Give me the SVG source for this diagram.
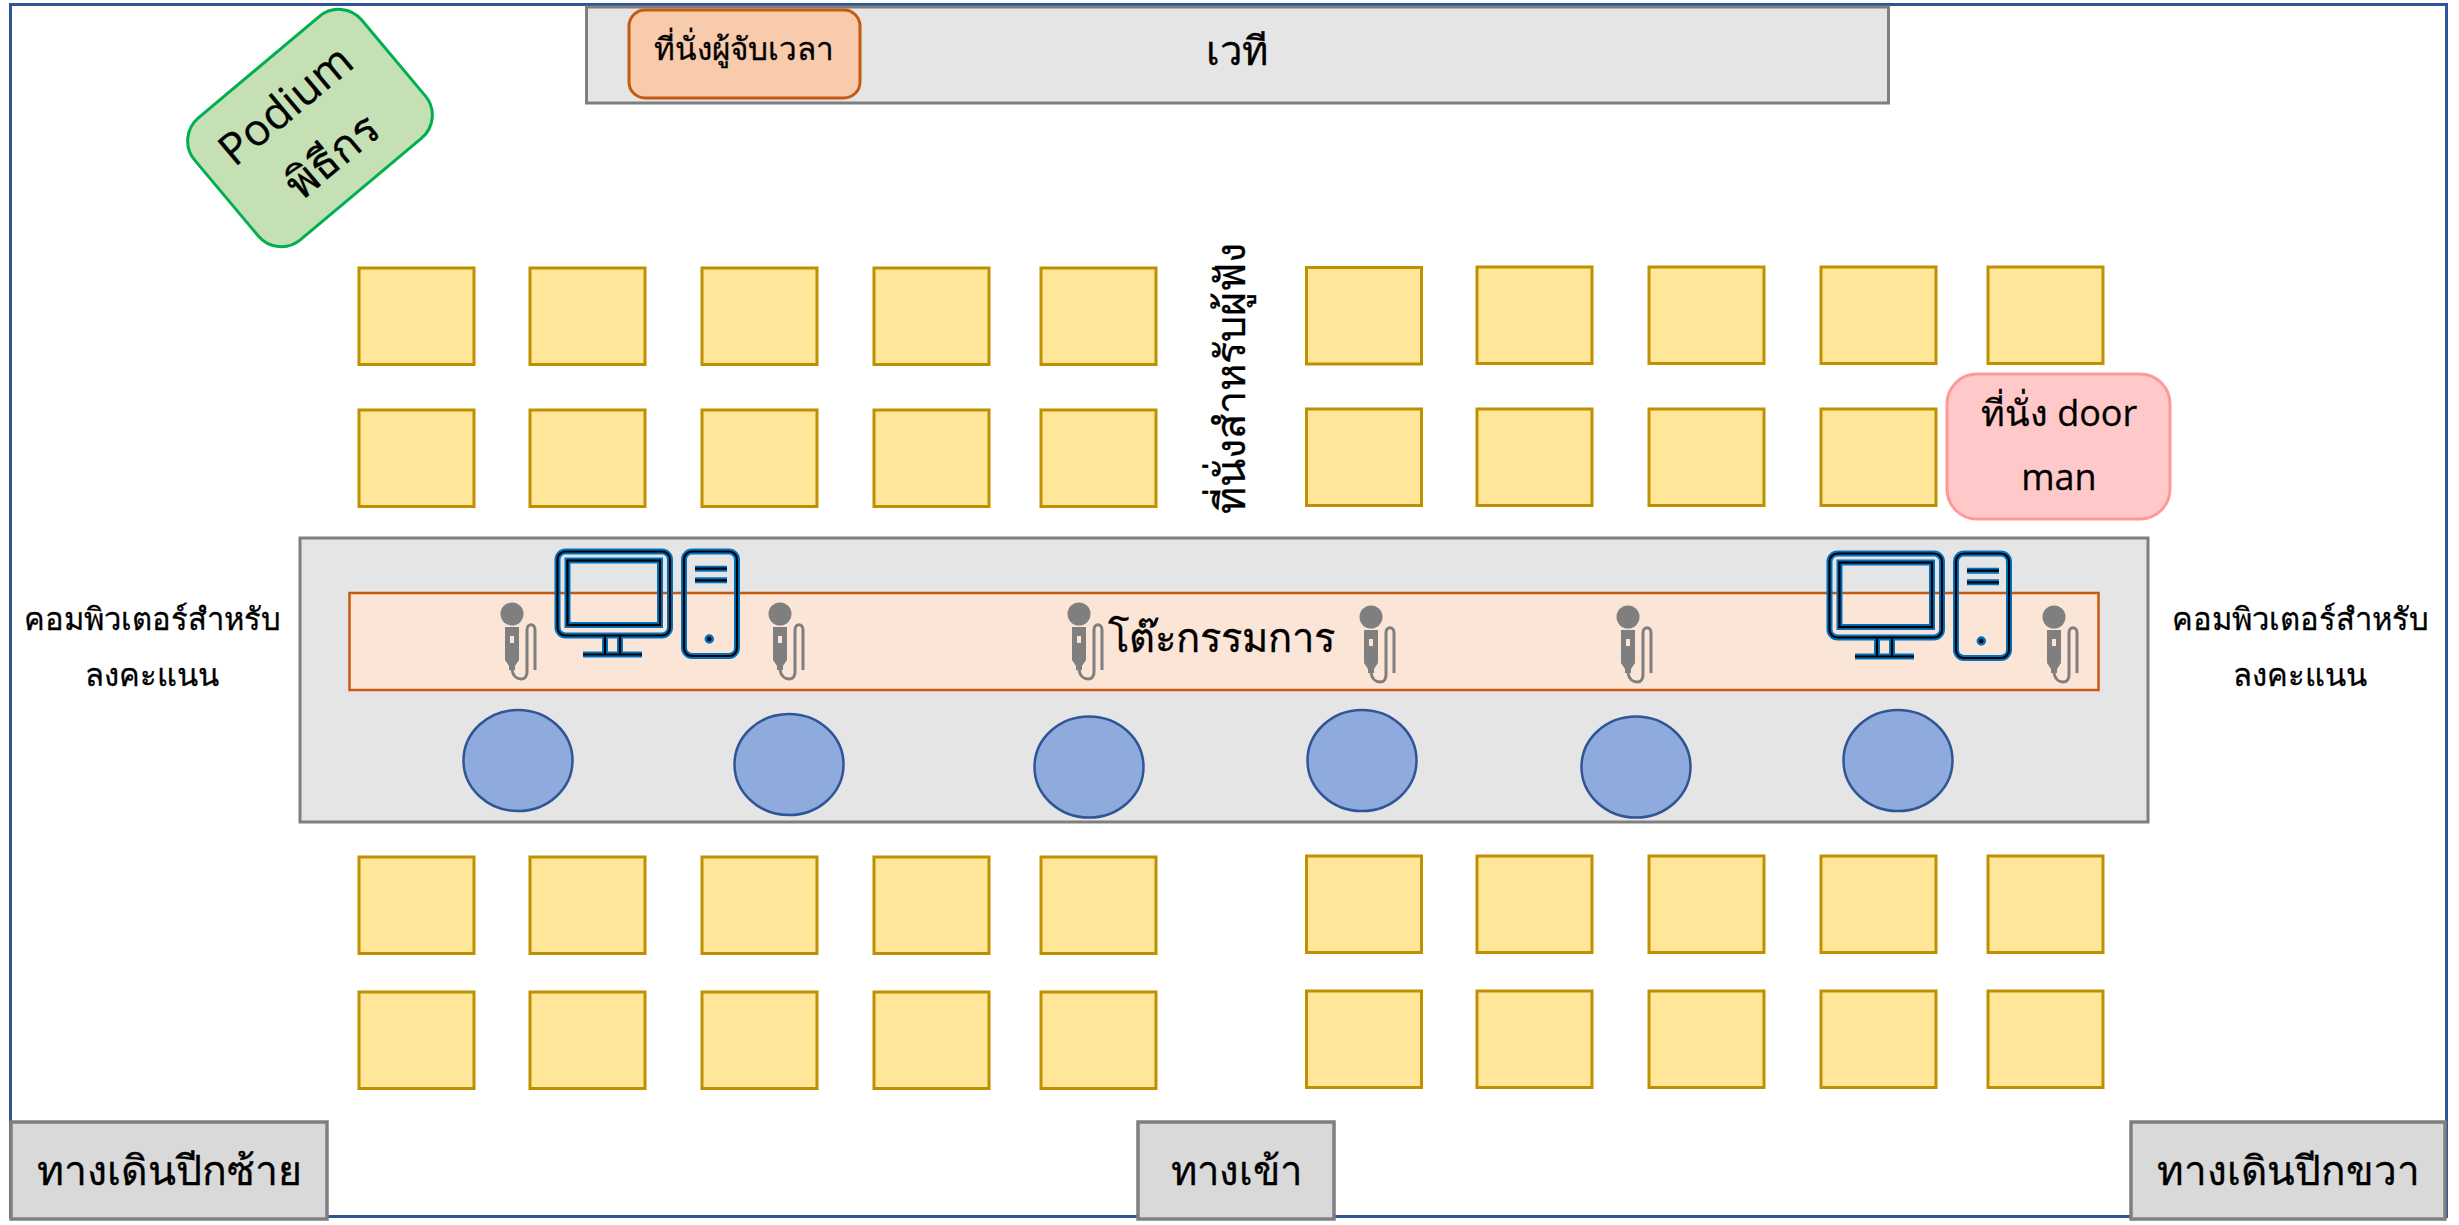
<svg xmlns="http://www.w3.org/2000/svg" width="2459" height="1225" viewBox="0 0 2459 1225">
<style>
text{font-family:"Open Sans","Noto Sans","DejaVu Sans",sans-serif;fill:#000;stroke:#000;stroke-width:.3;text-anchor:middle}
.seat{fill:#ffe699;stroke:#bf9000;stroke-width:3}
.walk{fill:#d9d9d9;stroke:#7f7f7f;stroke-width:3.5}
.circ{fill:#8faadc;stroke:#2f5597;stroke-width:2.5}
.b{fill:none;stroke:#0070c0;stroke-width:6}
.k{fill:none;stroke:#000;stroke-width:2.2}
.mic{fill:#7f7f7f}
.cable{fill:none;stroke:#7f7f7f;stroke-width:3}
</style>
<defs>
<g id="seat"><rect class="seat" width="115" height="96.500"/></g>
<g id="mic">
<circle class="mic" cx="0" cy="0" r="11.500"/>
<path class="mic" d="M-7 13H7V46L3 52V56H-3V52L-7 46Z"/>
<rect x="-2" y="22" width="4" height="7" fill="#fbe5d6"/>
<path class="cable" d="M0 56C1 62 5 65 9 65C13 65 15 62 15 58V16C15 9 23 9 23 16V56"/>
</g>
<g id="pc">
<rect class="b" x="557.500" y="551.500" width="112.500" height="84" rx="8"/><rect class="b" x="567.500" y="560.500" width="92.500" height="64.500"/>
<path class="b" d="M605 635V654M620 635V654M583 654.500H642"/>
<rect class="b" x="684" y="551.500" width="53" height="104.500" rx="8"/><path class="b" d="M695 568.700H727M695 580.300H727"/><circle cx="709.300" cy="639" r="3.500" fill="#000" stroke="#0070c0" stroke-width="2.500"/>
<rect class="k" x="557.500" y="551.500" width="112.500" height="84" rx="8"/><rect class="k" x="567.500" y="560.500" width="92.500" height="64.500"/>
<path class="k" d="M605 635V654M620 635V654M583 654.500H642"/>
<rect class="k" x="684" y="551.500" width="53" height="104.500" rx="8"/><path class="k" d="M695 568.700H727M695 580.300H727"/>
</g>
</defs>
<rect width="2459" height="1225" fill="#fff"/>
<g id="connectors"/>
<rect id="frame" x="10.500" y="4.500" width="2436" height="1212" fill="none" stroke="#2f5597" stroke-width="3"/>
<g id="stage"><rect x="586.500" y="7" width="1302" height="96" fill="#e5e5e5" stroke="#7f7f7f" stroke-width="3"/><text x="1237" y="65" font-size="40">เวที</text></g>
<g id="timekeeper"><rect x="629" y="10" width="231" height="88" rx="16" fill="#f8cbad" stroke="#c55a11" stroke-width="3"/><text x="744" y="60" font-size="31.500">ที่นั่งผู้จับเวลา</text></g>
<g id="podium" transform="translate(310 128) rotate(-40)"><rect x="-109" y="-79.500" width="218" height="159" rx="30" fill="#c5e0b4" stroke="#00b050" stroke-width="3"/><text x="-4" y="-18" font-size="44">Podium</text><text x="-1" y="51" font-size="44">พิธีกร</text></g>
<g id="seats">
<use href="#seat" x="359" y="268"/><use href="#seat" x="530" y="268"/><use href="#seat" x="702" y="268"/><use href="#seat" x="874" y="268"/><use href="#seat" x="1041" y="268"/>
<use href="#seat" x="1306.500" y="267.500"/><use href="#seat" x="1477" y="267"/><use href="#seat" x="1649" y="267"/><use href="#seat" x="1821" y="267"/><use href="#seat" x="1988" y="267"/>
<use href="#seat" x="359" y="410"/><use href="#seat" x="530" y="410"/><use href="#seat" x="702" y="410"/><use href="#seat" x="874" y="410"/><use href="#seat" x="1041" y="410"/>
<use href="#seat" x="1306.500" y="409"/><use href="#seat" x="1477" y="409"/><use href="#seat" x="1649" y="409"/><use href="#seat" x="1821" y="409"/>
<use href="#seat" x="359" y="857"/><use href="#seat" x="530" y="857"/><use href="#seat" x="702" y="857"/><use href="#seat" x="874" y="857"/><use href="#seat" x="1041" y="857"/>
<use href="#seat" x="1306.500" y="856"/><use href="#seat" x="1477" y="856"/><use href="#seat" x="1649" y="856"/><use href="#seat" x="1821" y="856"/><use href="#seat" x="1988" y="856"/>
<use href="#seat" x="359" y="992"/><use href="#seat" x="530" y="992"/><use href="#seat" x="702" y="992"/><use href="#seat" x="874" y="992"/><use href="#seat" x="1041" y="992"/>
<use href="#seat" x="1306.500" y="991"/><use href="#seat" x="1477" y="991"/><use href="#seat" x="1649" y="991"/><use href="#seat" x="1821" y="991"/><use href="#seat" x="1988" y="991"/>
</g>
<g id="doorman"><rect x="1947" y="374" width="223" height="145" rx="30" fill="#ffc9c9" stroke="#ff9999" stroke-width="3"/><text x="2059" y="426" font-size="36">ที่นั่ง door</text><text x="2059" y="490" font-size="36">man</text></g>
<g id="audience-label"><text transform="translate(1245 378) rotate(-90)" font-size="41.500">ที่นั่งสำหรับผู้ฟัง</text></g>
<g id="panel"><rect x="300" y="538" width="1848" height="284" fill="#e5e5e5" stroke="#7f7f7f" stroke-width="3"/></g>
<g id="table"><rect x="349.500" y="593" width="1749" height="97" fill="#fbe5d6" stroke="#c55a11" stroke-width="2.500"/><text x="1221" y="652" font-size="40">โต๊ะกรรมการ</text></g>
<g id="mics"><use href="#mic" x="512" y="614"/><use href="#mic" x="780" y="614"/><use href="#mic" x="1079" y="614"/><use href="#mic" x="1371" y="617"/><use href="#mic" x="1628" y="617"/><use href="#mic" x="2054" y="617"/></g>
<g id="pc-left"><use href="#pc"/></g>
<g id="pc-right"><use href="#pc" x="1272" y="2"/></g>
<g id="chairs"><ellipse class="circ" cx="518" cy="760.500" rx="54.500" ry="50.500"/><ellipse class="circ" cx="789" cy="764.500" rx="54.500" ry="50.500"/><ellipse class="circ" cx="1089" cy="767" rx="54.500" ry="50.500"/><ellipse class="circ" cx="1362" cy="760.500" rx="54.500" ry="50.500"/><ellipse class="circ" cx="1636" cy="767" rx="54.500" ry="50.500"/><ellipse class="circ" cx="1898" cy="760.500" rx="54.500" ry="50.500"/></g>
<g id="label-left"><text x="152" y="630" font-size="31">คอมพิวเตอร์สำหรับ</text><text x="152" y="686" font-size="31">ลงคะแนน</text></g>
<g id="label-right"><text x="2300" y="630" font-size="31">คอมพิวเตอร์สำหรับ</text><text x="2300" y="686" font-size="31">ลงคะแนน</text></g>
<g id="walk-left"><rect class="walk" x="11" y="1122" width="316" height="97"/><text x="169" y="1185" font-size="41">ทางเดินปีกซ้าย</text></g>
<g id="entrance"><rect class="walk" x="1138" y="1122" width="196" height="97"/><text x="1236" y="1185" font-size="40">ทางเข้า</text></g>
<g id="walk-right"><rect class="walk" x="2131" y="1122" width="314" height="97"/><text x="2288" y="1185" font-size="40.500">ทางเดินปีกขวา</text></g>
</svg>
